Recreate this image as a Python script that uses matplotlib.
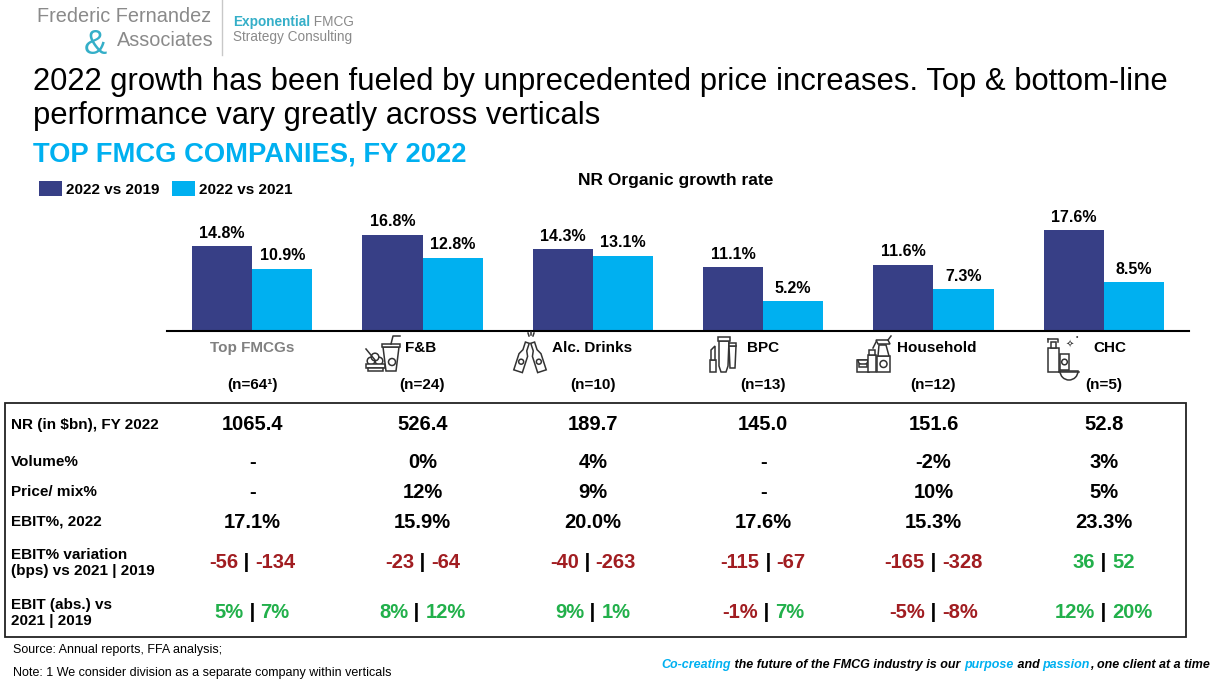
import matplotlib.pyplot as plt
import numpy as np
from matplotlib.patches import Rectangle, Polygon, Circle, Wedge
from matplotlib.lines import Line2D
import matplotlib.transforms as mtransforms

# ---- data
categories = ['Top FMCGs', 'F&B', 'Alc. Drinks', 'BPC', 'Household', 'CHC']
n_counts = ['(n=64\u00b9)', '(n=24)', '(n=10)', '(n=13)', '(n=12)', '(n=5)']
growth_vs_2019 = [14.8, 16.8, 14.3, 11.1, 11.6, 17.6]
growth_vs_2021 = [10.9, 12.8, 13.1, 5.2, 7.3, 8.5]

nr_bn = [1065.4, 526.4, 189.7, 145.0, 151.6, 52.8]
volume_pct = [None, 0, 4, None, -2, 3]
price_mix_pct = [None, 12, 9, None, 10, 5]
ebit_margin = [17.1, 15.9, 20.0, 17.6, 15.3, 23.3]
ebit_var_2021 = [-56, -23, -40, -115, -165, 36]
ebit_var_2019 = [-134, -64, -263, -67, -328, 52]
ebit_abs_2021 = [5, 8, 9, -1, -5, 12]
ebit_abs_2019 = [7, 12, 1, 7, -8, 20]

row_labels = ['NR (in $bn), FY 2022', 'Volume%', 'Price/ mix%', 'EBIT%, 2022',
              'EBIT% variation\n(bps) vs 2021 | 2019', 'EBIT (abs.) vs\n2021 | 2019']

# ---- style
DARK = '#373F86'
LIGHT = '#00B0F0'
RED = '#A11D21'
GREEN = '#22B04B'
GRAY = '#808080'
TEAL = '#35AFC8'
ICON = '#333333'
plt.rcParams['font.family'] = ['Liberation Sans', 'DejaVu Sans']

W, H = 1219, 685
fig = plt.figure(figsize=(W / 100, H / 100), dpi=100)
# pixel coords, origin top-left (used for the decorations only)
PX = mtransforms.Affine2D().scale(1 / W, -1 / H).translate(0, 1) + fig.transFigure


def fx(x):
    return x / W


def fy(y):
    return 1 - y / H


def ptext(x, y, s, **kw):
    kw.setdefault('va', 'center')
    return fig.text(fx(x), fy(y), s, **kw)


renderer = fig.canvas.get_renderer()


def pieces(x, y, parts, ha='left', **kw):
    # several differently coloured bits of text on one line
    objs, widths = [], []
    for s, c, extra in parts:
        t = fig.text(0, 0, s, color=c, va='center', ha='left', **kw, **extra)
        widths.append(t.get_window_extent(renderer).width)
        objs.append(t)
    total = sum(widths)
    start = {'center': x - total / 2, 'right': x - total}.get(ha, x)
    for t, w in zip(objs, widths):
        t.set_position((fx(start), fy(y)))
        start += w


def add(p):
    p.set_transform(PX)
    p.set_clip_on(False)
    fig.add_artist(p)


def poly(pts, **kw):
    add(Polygon(pts, closed=True, fill=True, facecolor='white', edgecolor=ICON, lw=1.1, **kw))


def line(xs, ys):
    add(Line2D(xs, ys, color=ICON, lw=1.1))


def circ(x, y, r):
    add(Circle((x, y), r, facecolor='white', edgecolor=ICON, lw=1.1))


def rect(x, y, w, h):
    add(Rectangle((x, y), w, h, facecolor='white', edgecolor=ICON, lw=1.1))


# ---- logo
ptext(37, 17, 'Frederic Fernandez', fontsize=14.3, color='#8a8a8a')
ptext(84, 44, '&', fontsize=25, color=TEAL)
ptext(117, 40, 'Associates', fontsize=14.3, color='#8a8a8a')
fig.add_artist(Line2D([fx(222), fx(222)], [fy(0), fy(55)], color='#c8c8c8', lw=1))
pieces(233, 22, [('Exponential', TEAL, {'fontweight': 'bold'}),
                 (' FMCG', '#8a8a8a', {})], fontsize=9.8)
ptext(233, 37, 'Strategy Consulting', fontsize=9.8, color='#8a8a8a')

# ---- titles
ptext(33, 82, '2022 growth has been fueled by unprecedented price increases. Top & bottom-line',
      fontsize=22.3, color='black')
ptext(33, 116, 'performance vary greatly across verticals', fontsize=22.3, color='black')
ptext(33, 155, 'TOP FMCG COMPANIES, FY 2022', fontsize=19.7, fontweight='bold', color=LIGHT)
ptext(676, 180, 'NR Organic growth rate', fontsize=12.5, fontweight='bold', ha='center')

# ---- bars
ax = fig.add_axes([fx(167), fy(331), fx(1189) - fx(167), (331 - 205) / H])
x = np.arange(len(categories))
w = 60 / 170
b1 = ax.bar(x - w / 2, growth_vs_2019, w, color=DARK, label='2022 vs 2019')
b2 = ax.bar(x + w / 2, growth_vs_2021, w, color=LIGHT, label='2022 vs 2021')
for b in (b1, b2):
    ax.bar_label(b, fmt='%.1f%%', padding=4, fontsize=11.5, fontweight='bold')
ax.set_xlim(-0.5, 5.5)
ax.set_ylim(0, 22)
for s in ['top', 'left', 'right']:
    ax.spines[s].set_visible(False)
ax.spines['bottom'].set_linewidth(1.5)
ax.set_xticks([])
ax.set_yticks([])

fig.legend(handles=[b1, b2], loc='center left', bbox_to_anchor=(fx(25), fy(189)),
           ncol=2, frameon=False, handlelength=1.5, handleheight=1.1,
           handletextpad=0.3, columnspacing=0.8,
           prop={'weight': 'bold', 'size': 11})

# column pixel centres from the axes scale
col_px = [ax.transData.transform((i, 0))[0] for i in x]

# ---- category labels
label_shift = [0, -17, -41, -16, -36, -10]
for i, cat in enumerate(categories):
    if i == 0:
        ptext(col_px[i], 348, cat, ha='center', fontsize=11, fontweight='bold', color=GRAY)
    else:
        ptext(col_px[i] + label_shift[i], 348, cat, ha='left', fontsize=11, fontweight='bold')
    ptext(col_px[i], 385, n_counts[i], ha='center', fontsize=11, fontweight='bold')

# ---- rough line icons next to the vertical names
# F&B: food bowl, fork, cup with straw
line([366, 375], [349, 360])
for cx_, cy_ in [(371, 361), (379, 361), (375, 357)]:
    circ(cx_, cy_, 3.8)
rect(366, 364, 19, 4)
rect(368, 368, 15, 3)
poly([(383, 347), (399, 347), (396, 371), (386, 371)])
rect(382, 344, 18, 3)
line([391, 393, 400], [344, 336, 336])
circ(392, 362, 3.5)


# Alc. drinks: two tilted bottles
def bottle(cx_, cy_, ang):
    tr = mtransforms.Affine2D().rotate_deg(ang).translate(cx_, cy_)
    pts = [(-4.5, 16), (4.5, 16), (4.5, -1), (2, -6), (2, -14), (-2, -14), (-2, -6), (-4.5, -1)]
    poly(tr.transform(pts))
    c = tr.transform([(0, 6)])[0]
    circ(c[0], c[1], 2.5)


bottle(523, 356, 18)
bottle(537, 356, -18)
line([528, 529], [333, 336])
line([531, 531], [332, 335])
line([534, 533], [333, 336])

# BPC: lipstick and two tubes
rect(710, 360, 6, 12)
poly([(711, 360), (711, 350), (715, 346), (715, 360)])
poly([(719, 341), (729, 341), (728, 366), (726, 372), (721, 372), (719, 366)])
rect(718, 337, 12, 4)
poly([(729, 346), (736, 346), (735, 368), (730, 368)])
rect(729, 343, 7, 3)

# Household: jar, small bottle, spray bottle
rect(857, 360, 12, 12)
add(Wedge((863, 360), 5, 0, 180, facecolor='white', edgecolor=ICON, lw=1.1))
rect(859, 364, 8, 3)
rect(868, 355, 8, 17)
rect(869, 350, 6, 5)
rect(877, 356, 13, 16)
circ(883.5, 364, 3.5)
poly([(878, 356), (879, 345), (886, 345), (889, 356)])
poly([(876, 340), (888, 340), (890, 344), (878, 344)])
line([888, 891], [340, 336])
line([876, 873], [342, 348])

# CHC: pump bottle, small bottle, soap dish, sparkles
rect(1048, 348, 11, 24)
rect(1051, 342, 5, 6)
line([1048, 1058, 1058], [339, 339, 342])
line([1048, 1048], [339, 342])
rect(1060, 354, 9, 16)
circ(1064.5, 362, 2.8)
add(Wedge((1069, 371), 9, 0, 180, facecolor='white', edgecolor=ICON, lw=1.1))
line([1059, 1079], [372, 372])
ptext(1070, 345, '\u2727', fontsize=7, ha='center', color=ICON, family=['DejaVu Sans'])
ptext(1077, 338, '\u2022', fontsize=5, ha='center', color=ICON)

# ---- table
fig.add_artist(Rectangle((fx(5), fy(637)), fx(1186) - fx(5), (637 - 403) / H,
                         fill=False, lw=1.3, edgecolor='#222222', transform=fig.transFigure))
row_y = [425, 462, 492, 522, 563, 613]
for lab, y in zip(row_labels, row_y):
    ptext(11, y, lab, fontsize=11, fontweight='bold', linespacing=1.15)

VAL = dict(fontsize=14.5, fontweight='bold')


def fmt_pct(v):
    return '-' if v is None else f'{v}%'


def sign_col(v):
    return RED if v < 0 else GREEN


for i in range(len(categories)):
    cx = col_px[i]
    ptext(cx, row_y[0], f'{nr_bn[i]:.1f}', ha='center', **VAL)
    ptext(cx, row_y[1], fmt_pct(volume_pct[i]), ha='center', **VAL)
    ptext(cx, row_y[2], fmt_pct(price_mix_pct[i]), ha='center', **VAL)
    ptext(cx, row_y[3], f'{ebit_margin[i]:.1f}%', ha='center', **VAL)
    a, b = ebit_var_2021[i], ebit_var_2019[i]
    pieces(cx, row_y[4], [(f'{a}', sign_col(a), {}), (' | ', 'black', {}),
                          (f'{b}', sign_col(b), {})], ha='center', **VAL)
    a, b = ebit_abs_2021[i], ebit_abs_2019[i]
    pieces(cx, row_y[5], [(f'{a}%', sign_col(a), {}), (' | ', 'black', {}),
                          (f'{b}%', sign_col(b), {})], ha='center', **VAL)

# ---- footer
ptext(13, 650, 'Source: Annual reports, FFA analysis;', fontsize=9)
ptext(13, 673, 'Note: 1 We consider division as a separate company within verticals', fontsize=9)
pieces(1210, 665, [('Co-creating', LIGHT, {}),
                   (' the future of the FMCG industry is our ', 'black', {}),
                   ('purpose', LIGHT, {}), (' and ', 'black', {}),
                   ('passion', LIGHT, {}), (', one client at a time', 'black', {})],
       ha='right', fontsize=9, fontweight='bold', fontstyle='italic')

fig.savefig('out.png', dpi=100)
